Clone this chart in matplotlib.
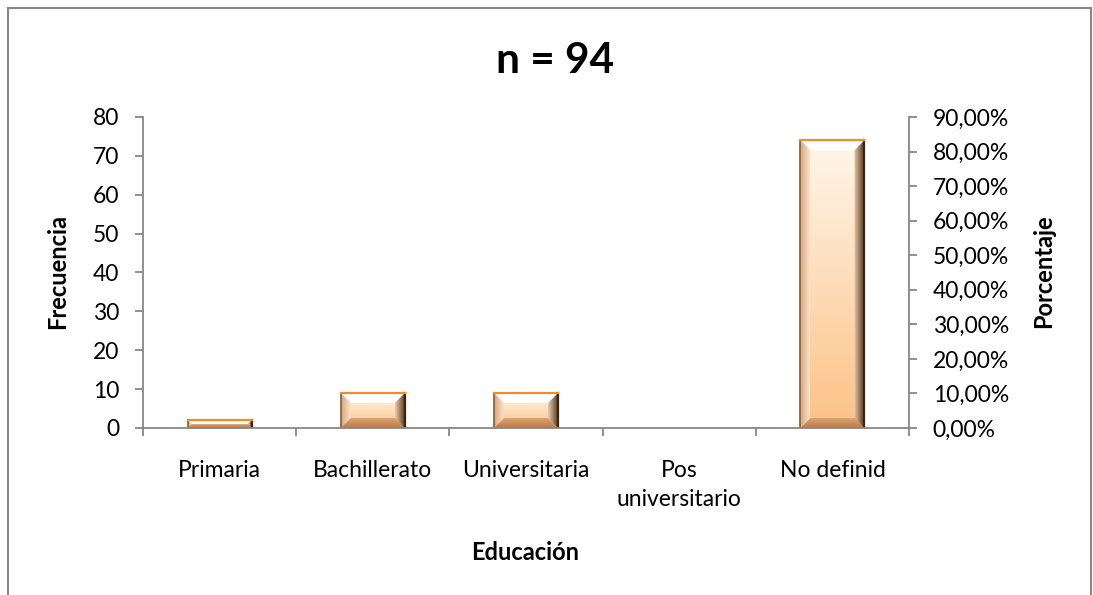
import numpy as np
import matplotlib.pyplot as plt
from matplotlib.patches import Rectangle, Polygon
from matplotlib.colors import LinearSegmentedColormap
from matplotlib.ticker import FuncFormatter

plt.rcParams['font.family'] = ['Lato', 'DejaVu Sans']

categorias = ['Primaria', 'Bachillerato', 'Universitaria', 'Pos\nuniversitario', 'No definid']
frecuencia = [2, 9, 9, 0, 74]
n_total = 94

fig = plt.figure(figsize=(10.93, 5.95), dpi=100)
ax = fig.add_axes([0.1308, 0.2807, 0.7009, 0.5227])
ax2 = ax.twinx()

x = np.arange(len(categorias))
ancho = 0.418
ax.set_xlim(-0.5, len(categorias) - 0.5)
ax.set_ylim(0, 80)
ax2.set_ylim(0, 0.9)

fig.canvas.draw()
to_data = ax.transData.inverted()


def faceta(pts_px, c_ini, c_fin, direccion, extent):
    # polygon in pixel space, filled with a two colour gradient
    poly = Polygon(to_data.transform(pts_px), closed=True, facecolor='none',
                   edgecolor='none')
    ax.add_patch(poly)
    g = np.linspace(0, 1, 128)
    arr = g.reshape(1, -1) if direccion == 'h' else g.reshape(-1, 1)
    cm = LinearSegmentedColormap.from_list('f', [c_ini, c_fin])
    im = ax.imshow(arr, extent=extent, origin='lower', cmap=cm,
                   aspect='auto', zorder=3, interpolation='bilinear')
    im.set_clip_path(poly)


for xi, v in zip(x, frecuencia):
    if v <= 0:
        continue
    x0, x1 = xi - ancho / 2, xi + ancho / 2
    ext = (x0, x1, 0, v)
    (px0, py0), (px1, py1) = ax.transData.transform([(x0, 0), (x1, v)])
    b = min(10, (py1 - py0) / 2)
    # body: light cream at top to soft orange at bottom
    faceta([(px0, py0), (px1, py0), (px1, py1), (px0, py1)],
           '#FCC287', '#FFF7EA', 'v', ext)
    # top facet
    faceta([(px0, py1), (px1, py1), (px1 - b, py1 - b), (px0 + b, py1 - b)],
           '#FFFFFF', '#FFFFFF', 'v', ext)
    # bottom facet
    faceta([(px0, py0), (px1, py0), (px1 - b, py0 + b), (px0 + b, py0 + b)],
           '#B77A4C', '#DDA473', 'v', (x0, x1, 0, to_data.transform([(0, py0 + b)])[0][1]))
    # left facet
    faceta([(px0, py0), (px0 + b, py0 + b), (px0 + b, py1 - b), (px0, py1)],
           '#D7A57C', '#FBE3CB', 'h', (x0, to_data.transform([(px0 + b, 0)])[0][0], 0, v))
    # right facet
    faceta([(px1, py0), (px1 - b, py0 + b), (px1 - b, py1 - b), (px1, py1)],
           '#EBCDB2', '#5A3A1E', 'h', (to_data.transform([(px1 - b, 0)])[0][0], x1, 0, v))
    ax.plot([x0, x0], [0, v], color='#8A5A30', lw=1.2, zorder=4)
    ax.plot([x1, x1], [0, v], color='#3E2410', lw=1.6, zorder=4)
    ax.plot([x0, x1], [v, v], color='#F28A30', lw=1.6, zorder=4)

gris = '#878787'
for a in (ax, ax2):
    for s in a.spines.values():
        s.set_visible(False)
ax.spines['left'].set_visible(True)
ax.spines['bottom'].set_visible(True)
ax2.spines['right'].set_visible(True)
for s in (ax.spines['left'], ax.spines['bottom'], ax2.spines['right']):
    s.set_color(gris)
    s.set_linewidth(1.3)
    s.set_zorder(5)

ax.set_yticks(np.arange(0, 81, 10))
ax2.set_yticks(np.arange(0, 0.91, 0.1))
ax2.yaxis.set_major_formatter(FuncFormatter(lambda v, p: f'{v * 100:.2f}%'.replace('.', ',')))
ax.set_xticks(np.arange(-0.5, len(categorias), 1))
ax.set_xticklabels([])
ax.set_xticks(x, minor=True)
ax.set_xticklabels(categorias, minor=True, fontsize=16.5, linespacing=1.5, va='top')
ax.tick_params(axis='x', which='major', direction='out', length=5.5, color=gris, width=1.3)
ax.tick_params(axis='x', which='minor', length=0, pad=23)
ax.tick_params(axis='y', direction='out', length=6, color=gris, width=1.3, labelsize=16.5, pad=11)
ax2.tick_params(axis='y', direction='out', length=6, color=gris, width=1.3, labelsize=16.5, pad=11)

fig.text(58 / 1093, 0.5437, 'Frecuencia', rotation=90, ha='center', va='center',
         fontsize=17, fontweight='bold')
fig.text(1044 / 1093, 0.5437, 'Porcentaje', rotation=90, ha='center', va='center',
         fontsize=17, fontweight='bold')
fig.text(525 / 1093, 1 - 552 / 595, 'Educación', ha='center', va='center',
         fontsize=17, fontweight='bold')
fig.text(555 / 1093, 1 - 73 / 595, f'n = {n_total}', ha='center', va='baseline',
         fontsize=30.5, fontweight='bold')

fig.patches.append(Rectangle((0.0073, -0.02), 0.9909, 1.0066, transform=fig.transFigure,
                             facecolor='none', edgecolor=gris, lw=1.5))

fig.savefig('out.png', dpi=100)
